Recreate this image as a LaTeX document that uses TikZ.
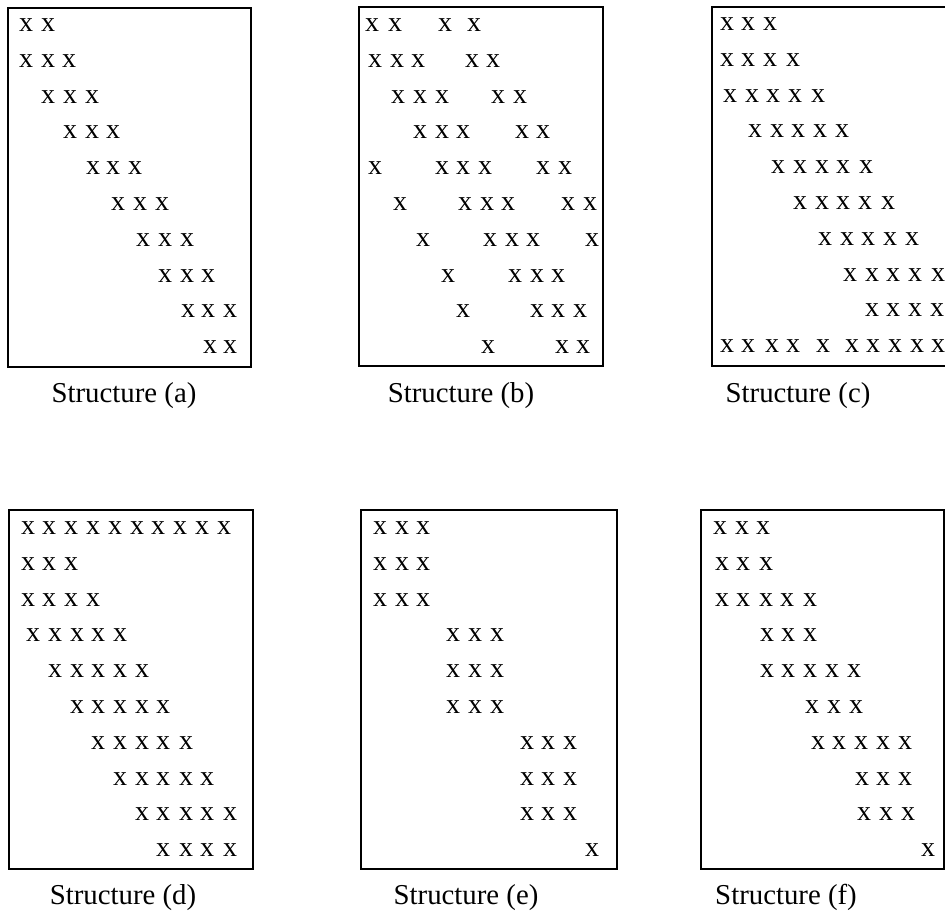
\documentclass[tikz,border=0pt]{standalone}
\usepackage{fontspec}
\setmainfont{Liberation Serif}
\usepackage{tikz}
\usetikzlibrary{positioning}
\tikzset{
  mbox/.style={draw, line width=0.9pt, inner sep=0pt, anchor=north west,
    minimum width=121.5pt, minimum height=179.5pt},
  xe/.style={font=\fontsize{14}{14}\selectfont, inner sep=0pt},
  lbl/.style={font=\fontsize{14.4}{17}\selectfont, anchor=base, inner sep=0pt},
}
\begin{document}
\begin{tikzpicture}[x=0.5pt, y=-0.5pt]
\clip (0,0) rectangle (945,914);

% =====================================================================
% TOP ROW
% =====================================================================
% ── STRUCTURE (a) ────────────────────────────────────────────────────
\node[mbox] (A) at (7,7) {};
\foreach \r/\xs in {1/{26,48}, 2/{26,48,69}, 3/{48,70,92}, 4/{70,92,113},
    5/{93,113,135}, 6/{118,140,162}, 7/{143,165,187}, 8/{165,187,208},
    9/{188,208,230}, 10/{210,230}}
  \foreach \x [count=\i] in \xs
    \node[xe] (a\r-\i) at (\x,{25+(\r-1)*35.8}) {x};
\node[lbl] (la) at (124,402) {Structure (a)};

% ── STRUCTURE (b) ────────────────────────────────────────────────────
\node[mbox, minimum width=122pt] (B) at (358,6) {};
\foreach \r/\xs in {1/{372,395,445,474}, 2/{375,397,418,472,493},
    3/{398,420,442,498,520}, 4/{420,442,463,522,543},
    5/{375,442,463,485,543,565}, 6/{400,465,487,508,568,590},
    7/{423,490,512,533,592}, 8/{448,515,537,558}, 9/{463,537,558,580},
    10/{488,562,583}}
  \foreach \x [count=\i] in \xs
    \node[xe] (b\r-\i) at (\x,{25+(\r-1)*35.8}) {x};
\node[lbl] (lb) at (461,402) {Structure (b)};

% ── STRUCTURE (c) (right edge runs off the page) ─────────────────────
\node[mbox, minimum width=122pt] (C) at (711,6) {};
\foreach \r/\xs in {1/{727,748,770}, 2/{727,748,770,793},
    3/{730,752,773,795,818}, 4/{755,777,798,820,842},
    5/{778,800,822,843,866}, 6/{800,822,843,865,888},
    7/{825,847,868,890,912}, 8/{850,872,893,915,938},
    9/{872,893,915,937}, 10/{727,748,772,793,823,852,873,895,917,938}}
  \foreach \x [count=\i] in \xs
    \node[xe] (c\r-\i) at (\x,{24+(\r-1)*35.8}) {x};
\node[lbl] (lc) at (798,402) {Structure (c)};

% =====================================================================
% BOTTOM ROW
% =====================================================================
% ── STRUCTURE (d) ────────────────────────────────────────────────────
\node[mbox, minimum width=122pt] (D) at (8,509) {};
\foreach \r/\xs in {1/{28,49,71,93,115,137,158,180,202,224}, 2/{28,49,71},
    3/{28,49,71,93}, 4/{33,55,77,98,120}, 5/{55,77,98,120,142},
    6/{77,98,120,142,163}, 7/{98,120,142,163,186}, 8/{120,142,163,186,207},
    9/{142,163,186,207,230}, 10/{163,186,207,230}}
  \foreach \x [count=\i] in \xs
    \node[xe] (d\r-\i) at (\x,{528+(\r-1)*35.8}) {x};
\node[lbl] (ld) at (123,904) {Structure (d)};

% ── STRUCTURE (e) ────────────────────────────────────────────────────
\node[mbox, minimum width=128pt] (E) at (360,509) {};
\foreach \r/\xs in {1/{380,402,423}, 2/{380,402,423}, 3/{380,402,423},
    4/{453,475,497}, 5/{453,475,497}, 6/{453,475,497},
    7/{527,548,570}, 8/{527,548,570}, 9/{527,548,570}, 10/{592}}
  \foreach \x [count=\i] in \xs
    \node[xe] (e\r-\i) at (\x,{528+(\r-1)*35.8}) {x};
\node[lbl] (le) at (466,904) {Structure (e)};

% ── STRUCTURE (f) ────────────────────────────────────────────────────
\node[mbox] (F) at (700,509) {};
\foreach \r/\xs in {1/{720,742,763}, 2/{722,743,766}, 3/{722,743,766,787,810},
    4/{767,788,810}, 5/{767,788,810,832,854}, 6/{812,834,856},
    7/{818,839,861,883,905}, 8/{862,883,905}, 9/{864,886,908}, 10/{928}}
  \foreach \x [count=\i] in \xs
    \node[xe] (f\r-\i) at (\x,{528+(\r-1)*35.8}) {x};
\node[lbl] (lf) at (786,904) {Structure (f)};

\end{tikzpicture}
\end{document}
